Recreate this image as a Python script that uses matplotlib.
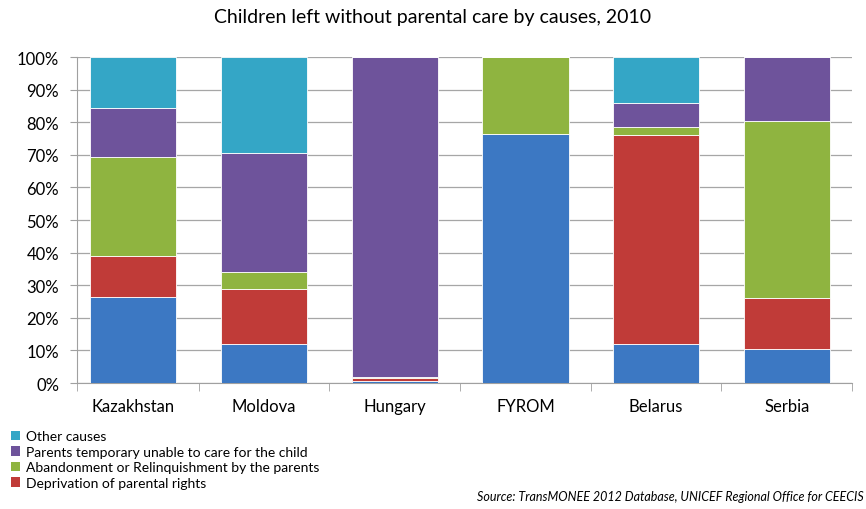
import numpy as np
import matplotlib.pyplot as plt
from matplotlib.patches import Patch

countries = ["Kazakhstan", "Moldova", "Hungary", "FYROM", "Belarus", "Serbia"]

# shares in %, bottom to top
blue_share = [26.5, 12.0, 0.5, 76.5, 12.0, 10.5]
deprivation = [12.5, 17.0, 1.0, 0.0, 64.0, 15.5]
abandonment = [30.5, 5.0, 0.5, 23.5, 2.5, 54.5]
parents_unable = [15.0, 36.5, 98.0, 0.0, 7.5, 19.5]
other_causes = [15.5, 29.5, 0.0, 0.0, 14.0, 0.0]

series = [
    (blue_share, "#3c78c3", None),
    (deprivation, "#c03b38", "Deprivation of parental rights"),
    (abandonment, "#8fb440", "Abandonment or Relinquishment by the parents"),
    (parents_unable, "#6e539b", "Parents temporary unable to care for the child"),
    (other_causes, "#34a6c6", "Other causes"),
]

plt.rcParams['font.family'] = ['Lato', 'DejaVu Sans']

fig = plt.figure(figsize=(8.66, 5.10), dpi=100)
ax = fig.add_axes([0.089, 0.247, 0.895, 0.639])

x = np.arange(len(countries))
bottom = np.zeros(len(countries))
for vals, col, lab in series:
    v = np.array(vals)
    ax.bar(x, v, bottom=bottom, width=0.66, color=col, edgecolor="#ffffff",
           linewidth=0.6, zorder=3)
    bottom += v

x_left = -0.43
ax.set_xlim(x_left, len(countries) - 0.5)
ax.set_ylim(0, 100)
ax.set_yticks(np.arange(0, 101, 10))
ax.set_yticklabels([f"{t}%" for t in range(0, 101, 10)], fontsize=12)
ax.set_xticks(x)
ax.set_xticklabels(countries, fontsize=12)
ax.tick_params(axis="x", length=0, pad=11)
ax.set_xticks([x_left] + list(np.arange(0.5, len(countries) + 0.5, 1)), minor=True)
ax.tick_params(axis="x", which="minor", length=6, color="#a0a0a0")
ax.tick_params(axis="y", length=5, color="#a0a0a0", pad=8)

ax.grid(axis="y", color="#a6a6a6", linewidth=0.9, zorder=0)
for s in ["top", "right"]:
    ax.spines[s].set_visible(False)
ax.spines["left"].set_color("#a0a0a0")
ax.spines["bottom"].set_color("#a0a0a0")

fig.text(0.5, 0.965, "Children left without parental care by causes, 2010",
         ha="center", va="center", fontsize=14)

handles = [Patch(facecolor=col, label=lab) for vals, col, lab in series[::-1] if lab]
fig.legend(handles=handles, loc="upper left", bbox_to_anchor=(0.006, 0.165),
           frameon=False, fontsize=10, handlelength=0.7, handleheight=0.7,
           handletextpad=0.4, labelspacing=0.25, borderaxespad=0)

fig.text(0.997, 0.025, "Source: TransMONEE 2012 Database, UNICEF Regional Office for CEECIS",
         fontsize=9, style="italic", ha="right", va="center",
         family=["Liberation Sans Narrow", "Lato", "DejaVu Sans"])

fig.savefig("out.png", dpi=100)
